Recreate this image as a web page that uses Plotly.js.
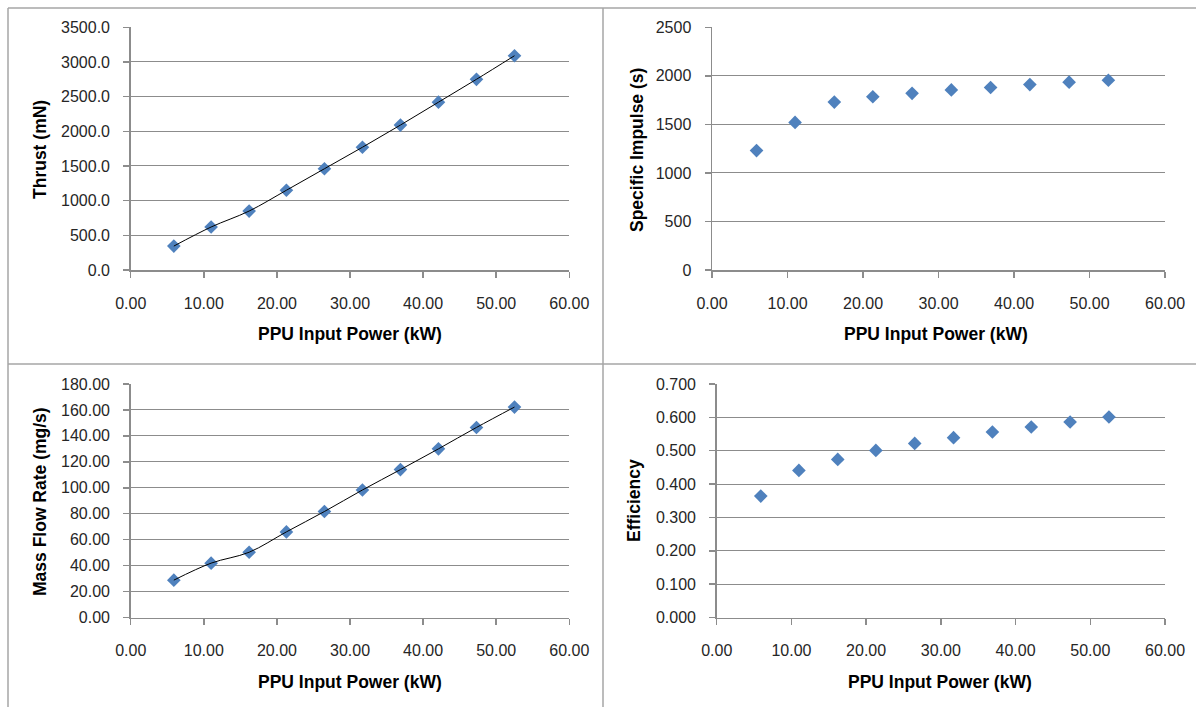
<!DOCTYPE html>
<html>
<head>
<meta charset="utf-8">
<script src="https://cdn.plot.ly/plotly-3.0.1.min.js"></script>
<style>html,body{margin:0;padding:0;background:#fff;}#chart{width:1196px;height:707px;}</style>
</head>
<body>
<div id="chart"></div>
<script>
// PPU input power (kW) — shared x values
const power = [5.9, 11.0, 16.2, 21.3, 26.5, 31.7, 36.9, 42.1, 47.3, 52.5];
// Series
const thrust = [345, 620, 850, 1150, 1460, 1770, 2090, 2420, 2750, 3090];        // mN
const isp = [1230, 1520, 1730, 1785, 1820, 1855, 1880, 1910, 1935, 1955];         // s
const massFlow = [28.8, 41.9, 50.3, 66.0, 81.7, 98.3, 114.0, 130.0, 146.5, 162.2]; // mg/s
const efficiency = [0.364, 0.441, 0.474, 0.501, 0.522, 0.539, 0.556, 0.571, 0.586, 0.601];
// Titles
const xTitle = 'PPU Input Power (kW)';
const yTitles = ['Thrust (mN)', 'Specific Impulse (s)', 'Mass Flow Rate (mg/s)', 'Efficiency'];

const BLUE = '#4F81BD';
const GRAY = '#8C8C8C';
const FONT = 'Liberation Sans, Arial, sans-serif';

function markers(y, xa, ya) {
  return {x: power, y: y, xaxis: xa, yaxis: ya, type: 'scatter', mode: 'markers',
    marker: {symbol: 'diamond', size: 10.5, color: BLUE}, hoverinfo: 'x+y', cliponaxis: false};
}
function trend(y, xa, ya) {
  return {x: power, y: y, xaxis: xa, yaxis: ya, type: 'scatter', mode: 'lines',
    line: {color: '#000', width: 1, shape: 'spline', smoothing: 1}, hoverinfo: 'skip'};
}

const data = [
  markers(thrust, 'x', 'y'), trend(thrust, 'x', 'y'),
  markers(isp, 'x2', 'y2'),
  markers(massFlow, 'x3', 'y3'), trend(massFlow, 'x3', 'y3'),
  markers(efficiency, 'x4', 'y4')
];

function xax(domain, anchor) {
  return {domain: domain, anchor: anchor, range: [0, 60], dtick: 10, tick0: 0, tickformat: '.2f',
    ticks: 'outside', ticklen: 6, tickwidth: 1.5, tickcolor: GRAY, showgrid: false,
    showline: true, linecolor: GRAY, linewidth: 1.5, zeroline: false, ticklabelstandoff: 12,
    tickfont: {family: FONT, size: 16, color: '#262626'}, fixedrange: true};
}
function yax(domain, anchor, range, dtick, fmt) {
  return {domain: domain, anchor: anchor, range: range, dtick: dtick, tick0: 0, tickformat: fmt,
    ticks: 'outside', ticklen: 6, tickwidth: 1.5, tickcolor: GRAY, showgrid: true, gridcolor: GRAY,
    gridwidth: 1, showline: true, linecolor: GRAY, linewidth: 1.5, zeroline: false,
    ticklabelstandoff: 10, tickfont: {family: FONT, size: 16, color: '#262626'}, fixedrange: true};
}

const yTop = [1 - 270 / 707, 1 - 27.3 / 707];
const yBot = [1 - 617.5 / 707, 1 - 384 / 707];
const xL = [130.7 / 1196, 569.3 / 1196];
const xR1 = [712 / 1196, 1165 / 1196];
const xR2 = [716.7 / 1196, 1165 / 1196];

function ann(text, x, y, angle) {
  return {text: '<b>' + text + '</b>', x: x, y: y, xref: 'paper', yref: 'paper', showarrow: false,
    xanchor: 'center', yanchor: 'middle', textangle: angle || 0,
    font: {family: FONT, size: 17.5, color: '#000'}};
}

const layout = {
  width: 1196, height: 707,
  margin: {l: 0, r: 0, t: 0, b: 0},
  paper_bgcolor: '#fff', plot_bgcolor: '#fff',
  showlegend: false,
  font: {family: FONT},
  xaxis: xax(xL, 'y'), yaxis: yax(yTop, 'x', [0, 3500], 500, '.1f'),
  xaxis2: xax(xR1, 'y2'), yaxis2: yax(yTop, 'x2', [0, 2500], 500, 'd'),
  xaxis3: xax(xL, 'y3'), yaxis3: yax(yBot, 'x3', [0, 180], 20, '.2f'),
  xaxis4: xax(xR2, 'y4'), yaxis4: yax(yBot, 'x4', [0, 0.7], 0.1, '.3f'),
  annotations: [
    ann(yTitles[0], 40 / 1196, 1 - 150 / 707, -90),
    ann(yTitles[1], 637 / 1196, 1 - 150 / 707, -90),
    ann(yTitles[2], 40 / 1196, 1 - 502 / 707, -90),
    ann(yTitles[3], 634 / 1196, 1 - 501 / 707, -90),
    ann(xTitle, 350 / 1196, 1 - 334 / 707),
    ann(xTitle, 936 / 1196, 1 - 334 / 707),
    ann(xTitle, 350 / 1196, 1 - 682 / 707),
    ann(xTitle, 940 / 1196, 1 - 682 / 707)
  ],
  shapes: [
    {type: 'line', xref: 'paper', yref: 'paper', x0: 8 / 1196, x1: 1, y0: 1 - 8 / 707, y1: 1 - 8 / 707, line: {color: '#A6A6A6', width: 1.5}},
    {type: 'line', xref: 'paper', yref: 'paper', x0: 8 / 1196, x1: 8 / 1196, y0: 0, y1: 1 - 8 / 707, line: {color: '#A6A6A6', width: 1.5}},
    {type: 'line', xref: 'paper', yref: 'paper', x0: 603 / 1196, x1: 603 / 1196, y0: 0, y1: 1 - 8 / 707, line: {color: '#A6A6A6', width: 1.5}},
    {type: 'line', xref: 'paper', yref: 'paper', x0: 8 / 1196, x1: 1, y0: 1 - 364 / 707, y1: 1 - 364 / 707, line: {color: '#A6A6A6', width: 1.5}}
  ]
};

Plotly.newPlot('chart', data, layout, {staticPlot: true, displayModeBar: false});
</script>
</body>
</html>
